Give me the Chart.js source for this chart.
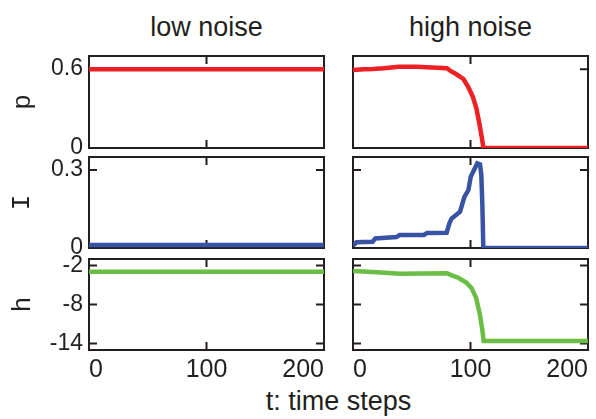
<!DOCTYPE html>
<html lang="en">
<head>
<meta charset="UTF-8">
<title>low noise / high noise</title>
<style>
  body {
    margin: 0;
    background: #fff;
    font-family: "Liberation Sans", Arial, sans-serif;
    color: #231f20;
  }
  #fig {
    position: relative;
    width: 596px;
    height: 419px;
  }
  .panel {
    position: absolute;
  }
  .label {
    position: absolute;
    font-size: 27px;
    line-height: 27px;
    text-align: center;
    white-space: nowrap;
  }
</style>
<script src="https://cdn.jsdelivr.net/npm/chart.js"></script>
</head>
<body>

<div id="fig">
  <div class="label" style="left:89px; width:235px; top:14px;">low noise</div>
  <div class="label" style="left:353px; width:235px; top:14px;">high noise</div>
  <div class="label" style="left:89px; width:499px; top:388px;">t: time steps</div>

  <div class="panel" style="left:0; top:50px; width:330px; height:104px;"><canvas id="pLow"></canvas></div>
  <div class="panel" style="left:347px; top:50px; width:247px; height:104px;"><canvas id="pHigh"></canvas></div>
  <div class="panel" style="left:0; top:151px; width:330px; height:103px;"><canvas id="iLow"></canvas></div>
  <div class="panel" style="left:347px; top:151px; width:247px; height:103px;"><canvas id="iHigh"></canvas></div>
  <div class="panel" style="left:0; top:253px; width:330px; height:138px;"><canvas id="hLow"></canvas></div>
  <div class="panel" style="left:347px; top:253px; width:247px; height:138px;"><canvas id="hHigh"></canvas></div>
</div>

<script>
// time axis
var xTicks = [0, 100, 200];

// low noise: everything stays flat
var tLow = [0, 50, 100, 150, 200];
var pLow = [0.6, 0.6, 0.6, 0.6, 0.6];
var iLow = [0.012, 0.012, 0.012, 0.012, 0.012];
var hLow = [-2.95, -2.95, -2.95, -2.95, -2.95];

// high noise: collapse near t = 110
var tpHigh = [0, 9, 17, 26, 39, 54, 63, 80, 83, 88, 94, 98, 102, 105, 107.5, 109.5, 111, 200];
var pHigh  = [0.594, 0.599, 0.601, 0.607, 0.619, 0.619, 0.614, 0.607, 0.586, 0.561, 0.525, 0.466, 0.39, 0.302, 0.188, 0.086, 0, 0];

var tiHigh = [0, 3, 16.7, 19, 37, 39.7, 60.3, 63.1, 79.7, 82, 84, 87.7, 91.1, 94.8, 98.2, 100.2, 103, 105.8, 108.1, 109.2, 110.1, 110.9, 200];
var iHigh  = [0.009, 0.022, 0.024, 0.037, 0.042, 0.05, 0.05, 0.058, 0.059, 0.095, 0.114, 0.127, 0.14, 0.197, 0.223, 0.274, 0.3, 0.326, 0.322, 0.281, 0.165, 0, 0];

var thHigh = [0, 17, 40, 80, 84, 89.6, 96.7, 101, 104.7, 108, 110, 111.2, 200];
var hHigh  = [-2.85, -3.0, -3.26, -3.2, -3.51, -3.88, -4.65, -5.51, -6.95, -9.51, -11.81, -13.61, -13.61];

var pTicks = [0, 0.6];
var iTicks = [0, 0.3];
var hTicks = [-14, -8, -2];

var ink = '#231f20';
var fontFamily = '"Liberation Sans", Arial, sans-serif';

// box round the plot area with inward tick marks on all four sides
var framePlugin = {
  id: 'frame',
  beforeDatasetsDraw: function(chart) {
    var ctx = chart.ctx, a = chart.chartArea;
    var x = chart.scales.x, y = chart.scales.y;
    var len = 8;
    ctx.save();
    ctx.strokeStyle = ink;
    ctx.lineWidth = 2;
    ctx.strokeRect(a.left, a.top, a.right - a.left, a.bottom - a.top);
    ctx.beginPath();
    x.ticks.forEach(function(t) {
      var px = x.getPixelForValue(t.value);
      ctx.moveTo(px, a.bottom); ctx.lineTo(px, a.bottom - len);
      ctx.moveTo(px, a.top); ctx.lineTo(px, a.top + len);
    });
    y.ticks.forEach(function(t) {
      var py = y.getPixelForValue(t.value);
      ctx.moveTo(a.left, py); ctx.lineTo(a.left + len, py);
      ctx.moveTo(a.right, py); ctx.lineTo(a.right - len, py);
    });
    ctx.stroke();
    ctx.restore();
  }
};

function panel(id, ts, vals, color, o) {
  var pts = ts.map(function(t, i) { return {x: t, y: vals[i]}; });
  return new Chart(document.getElementById(id), {
    type: 'line',
    data: {
      datasets: [{
        data: pts,
        borderColor: color,
        borderWidth: 4.5,
        pointRadius: 0,
        tension: 0,
        fill: false
      }]
    },
    options: {
      responsive: true,
      maintainAspectRatio: false,
      animation: false,
      layout: { padding: { top: 6, right: 6, left: 0, bottom: 0 } },
      plugins: { legend: { display: false }, tooltip: { enabled: false } },
      scales: {
        x: {
          type: 'linear',
          min: 0,
          max: 200,
          afterBuildTicks: function(s) { s.ticks = xTicks.map(function(v) { return {value: v}; }); },
          afterFit: function(s) {
            s.height = o.xLabels ? 41 : 6;
            s.paddingLeft = 0;
            s.paddingRight = 0;
          },
          grid: { display: false, drawTicks: false },
          border: { display: false },
          ticks: {
            display: o.xLabels,
            autoSkip: false,
            maxRotation: 0,
            align: 'inner',
            padding: 5,
            color: ink,
            font: { family: fontFamily, size: 25 },
            callback: function(v) { return String(v); }
          }
        },
        y: {
          min: o.min,
          max: o.max,
          afterBuildTicks: function(s) { s.ticks = o.ticks.map(function(v) { return {value: v}; }); },
          afterFit: function(s) {
            s.width = o.yLabels ? 89 : 6;
            s.paddingTop = 0;
            s.paddingBottom = 0;
          },
          grid: { display: false, drawTicks: false },
          border: { display: false },
          ticks: {
            display: o.yLabels,
            autoSkip: false,
            padding: 6,
            color: ink,
            font: { family: fontFamily, size: 23 },
            callback: function(v) { return String(v); }
          },
          title: {
            display: o.yLabels,
            text: o.title,
            color: ink,
            padding: { top: 7, bottom: 0 },
            font: { family: o.titleFont || fontFamily, size: 26 }
          }
        }
      }
    },
    plugins: [framePlugin]
  });
}

var red = 'rgb(237, 32, 36)';
var blue = 'rgb(57, 83, 164)';
var green = 'rgb(106, 189, 69)';

panel('pLow', tLow, pLow, red, { min: 0, max: 0.7, ticks: pTicks, yLabels: true, xLabels: false, title: 'p' });
panel('pHigh', tpHigh, pHigh, red, { min: 0, max: 0.7, ticks: pTicks, yLabels: false, xLabels: false });
panel('iLow', tLow, iLow, blue, { min: 0, max: 0.35, ticks: iTicks, yLabels: true, xLabels: false, title: 'I', titleFont: '"Liberation Mono", monospace' });
panel('iHigh', tiHigh, iHigh, blue, { min: 0, max: 0.35, ticks: iTicks, yLabels: false, xLabels: false });
panel('hLow', tLow, hLow, green, { min: -15, max: -1, ticks: hTicks, yLabels: true, xLabels: true, title: 'h' });
panel('hHigh', thHigh, hHigh, green, { min: -15, max: -1, ticks: hTicks, yLabels: false, xLabels: true });
</script>

</body>
</html>
